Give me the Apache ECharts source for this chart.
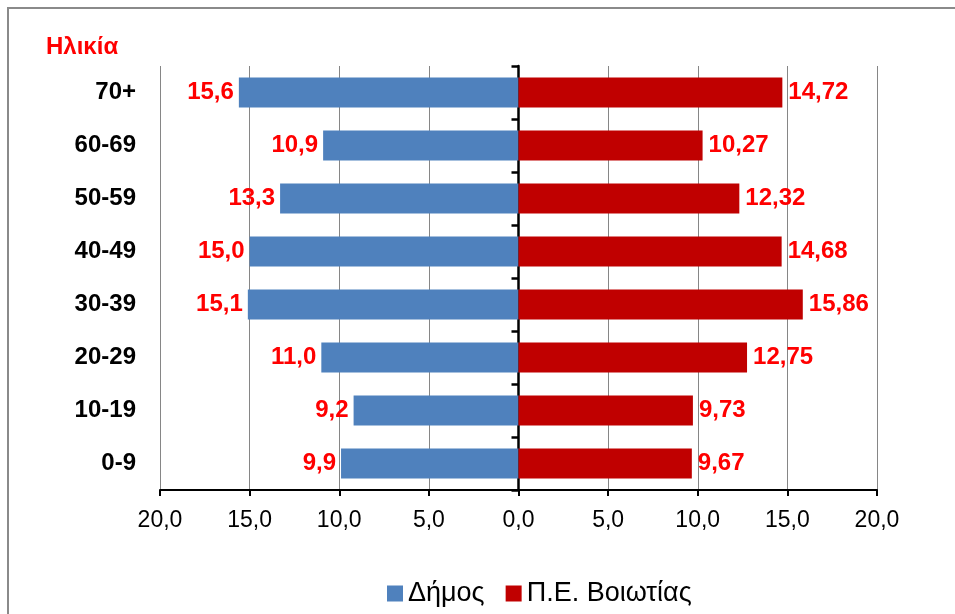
<!DOCTYPE html>
<html>
<head>
<meta charset="utf-8">
<script src="https://cdn.jsdelivr.net/npm/echarts@6/dist/echarts.min.js"></script>
<style>
html,body{margin:0;padding:0;background:#fff;}
#chart{width:955px;height:614px;}
</style>
</head>
<body>
<div id="chart"></div>
<script>
// Data
const categories = ['0-9', '10-19', '20-29', '30-39', '40-49', '50-59', '60-69', '70+'];
const dimosValues = [9.9, 9.2, 11.0, 15.1, 15.0, 13.3, 10.9, 15.6];
const voiotiaValues = [9.67, 9.73, 12.75, 15.86, 14.68, 12.32, 10.27, 14.72];
const seriesNames = ['Δήμος', 'Π.Ε. Βοιωτίας'];
const axisTitle = 'Ηλικία';

const FONT = 'Liberation Sans';
const comma = (v, d) => Math.abs(v).toFixed(d).replace('.', ',');

const chart = echarts.init(document.getElementById('chart'), null, {renderer: 'canvas'});
chart.setOption({
  animation: false,
  backgroundColor: '#ffffff',
  textStyle: {fontFamily: FONT},
  graphic: [{
    type: 'rect', z: -10, silent: true,
    shape: {x: 8, y: 8, width: 2000, height: 2000},
    style: {fill: 'none', stroke: '#8a8a8a', lineWidth: 2}
  }],
  title: {
    text: axisTitle, left: 41, top: 30,
    textStyle: {color: '#FF0000', fontWeight: 'bold', fontSize: 24, fontFamily: FONT}
  },
  legend: {
    data: seriesNames,
    left: 382, top: 575,
    itemWidth: 16, itemHeight: 16, itemGap: 21,
    icon: 'rect',
    textStyle: {fontSize: 27, color: '#000', fontFamily: FONT}
  },
  grid: {left: 160, right: 78, top: 66, bottom: 124, containLabel: false},
  xAxis: {
    type: 'value', min: -20, max: 20, interval: 5, position: 'bottom',
    axisLine: {show: true, onZero: false, lineStyle: {color: '#000', width: 2}},
    axisTick: {show: true, length: 6, lineStyle: {color: '#000', width: 2}},
    axisLabel: {fontSize: 23, color: '#000', margin: 19, fontFamily: FONT,
      formatter: v => comma(v, 1)},
    splitLine: {show: true, lineStyle: {color: '#868686', width: 1}}
  },
  yAxis: [{
    type: 'category', data: categories, position: 'left',
    axisLine: {show: false, onZero: false},
    axisTick: {show: false},
    axisLabel: {fontSize: 24, fontWeight: 'bold', color: '#000', margin: 24, fontFamily: FONT},
    splitLine: {show: false}
  }, {
    type: 'category', data: categories, position: 'left',
    axisLine: {show: true, onZero: true, lineStyle: {color: '#000', width: 2.5}},
    axisTick: {show: true, length: 7, lineStyle: {color: '#000', width: 2.5}},
    axisLabel: {show: false},
    splitLine: {show: false}
  }],
  series: [{
    name: seriesNames[0], type: 'bar', yAxisIndex: 0,
    data: dimosValues.map(v => -v),
    barWidth: 30, barGap: '-100%',
    itemStyle: {color: '#4F81BD'},
    label: {show: true, position: 'left', distance: 5, color: '#FF0000',
      fontWeight: 'bold', fontSize: 24, fontFamily: FONT,
      formatter: p => comma(p.value, 1)}
  }, {
    name: seriesNames[1], type: 'bar', yAxisIndex: 0,
    data: voiotiaValues,
    barWidth: 30, barGap: '-100%',
    itemStyle: {color: '#C00000'},
    label: {show: true, position: 'right', distance: 6, color: '#FF0000',
      fontWeight: 'bold', fontSize: 24, fontFamily: FONT,
      formatter: p => comma(p.value, 2)}
  }]
});
</script>
</body>
</html>
